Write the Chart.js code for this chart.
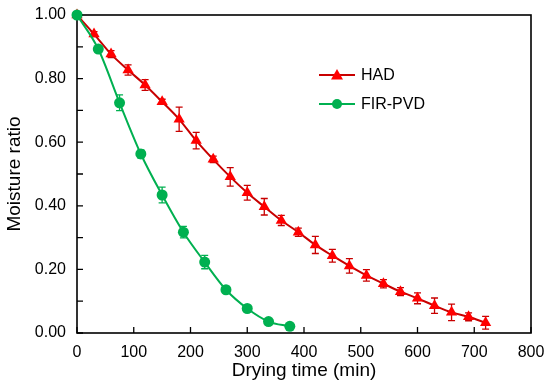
<!DOCTYPE html>
<html>
<head>
<meta charset="utf-8">
<script src="https://cdn.jsdelivr.net/npm/chart.js@4"></script>
<style>
  html,body{margin:0;padding:0;background:#fff;}
  #wrap{position:relative;width:550px;height:387px;}
</style>
</head>
<body>
<div id="wrap"><canvas id="chart" width="550" height="387"></canvas></div>
<script>
'use strict';
Chart.defaults.font.family = "Arial, 'Liberation Sans', sans-serif";
Chart.defaults.animation = false;

// ── DATA ──────────────────────────────────────────────
const timeHAD = [0,30,60,90,120,150,180,210,240,270,300,330,360,390,420,450,480,510,540,570,600,630,660,690,720];
const mrHAD   = [1.00,0.940,0.877,0.827,0.780,0.727,0.672,0.605,0.546,0.491,0.441,0.397,0.354,0.317,0.277,0.243,0.211,0.181,0.155,0.130,0.109,0.086,0.065,0.051,0.032];
const errHAD  = [0,0.008,0.011,0.016,0.017,0.008,0.038,0.026,0.010,0.029,0.023,0.026,0.016,0.013,0.027,0.020,0.023,0.018,0.013,0.0125,0.017,0.024,0.026,0.0125,0.020];

const timeFIR = [0,37.5,75,112.5,150,187.5,225,262.5,300,337.5,375];
const mrFIR   = [1.00,0.893,0.724,0.563,0.434,0.317,0.223,0.136,0.077,0.036,0.021];
const errFIR  = [0,0.008,0.025,0.013,0.025,0.018,0.021,0.005,0.005,0.004,0.004];

const xTicks = [0,100,200,300,400,500,600,700,800];
const yTicks = [0,0.1,0.2,0.3,0.4,0.5,0.6,0.7,0.8,0.9,1.0];
const yLabels = [0,0.2,0.4,0.6,0.8,1.0];

const RED = 'rgb(255,0,0)', RED_D = 'rgb(200,0,0)', GREEN = 'rgb(0,176,80)';
const FONT = "Arial, 'Liberation Sans', sans-serif";

const pts = (xs, ys) => xs.map((x,i)=>({x, y:ys[i]}));

// ── PLUGINS ───────────────────────────────────────────
const errorBars = {
  id:'errorBars',
  beforeDatasetsDraw(chart){
    const {ctx, scales:{x,y}} = chart;
    const sets = [[timeHAD,mrHAD,errHAD,RED_D],[timeFIR,mrFIR,errFIR,GREEN]];
    ctx.save();
    ctx.lineWidth = 1.3;
    sets.forEach(([ts,vs,es,col])=>{
      ctx.strokeStyle = col;
      ts.forEach((t,i)=>{
        if(!es[i]) return;
        const px = x.getPixelForValue(t);
        const top = y.getPixelForValue(vs[i]+es[i]), bot = y.getPixelForValue(vs[i]-es[i]);
        ctx.beginPath();
        ctx.moveTo(px,top); ctx.lineTo(px,bot);
        ctx.moveTo(px-3.5,top); ctx.lineTo(px+3.5,top);
        ctx.moveTo(px-3.5,bot); ctx.lineTo(px+3.5,bot);
        ctx.stroke();
      });
    });
    ctx.restore();
  }
};

// axis box, inward ticks, legend
const frame = {
  id:'frame',
  beforeDatasetsDraw(chart){
    const {ctx, chartArea:a, scales:{x,y}} = chart;
    ctx.save();
    ctx.strokeStyle = '#000';
    ctx.lineWidth = 1.6;
    ctx.strokeRect(a.left, a.top, a.right-a.left, a.bottom-a.top);
    ctx.lineWidth = 1.3;
    ctx.beginPath();
    xTicks.forEach(v=>{ const p = x.getPixelForValue(v); ctx.moveTo(p,a.bottom); ctx.lineTo(p,a.bottom-6); });
    yTicks.forEach(v=>{ const p = y.getPixelForValue(v); ctx.moveTo(a.left,p); ctx.lineTo(a.left+6,p); });
    ctx.stroke();
    ctx.restore();
  },
  afterDraw(chart){
    const {ctx} = chart;
    const items = [['HAD',RED_D,RED,'triangle',75],['FIR-PVD',GREEN,GREEN,'circle',104]];
    ctx.save();
    ctx.font = '16px ' + FONT;
    ctx.textBaseline = 'middle';
    items.forEach(([lab,lc,mc,shape,ly])=>{
      ctx.strokeStyle = lc; ctx.lineWidth = 2;
      ctx.beginPath(); ctx.moveTo(319,ly); ctx.lineTo(355,ly); ctx.stroke();
      ctx.fillStyle = mc;
      ctx.beginPath();
      if(shape==='circle'){ ctx.arc(337,ly,5,0,Math.PI*2); }
      else { ctx.moveTo(337,ly-6); ctx.lineTo(343,ly+4.5); ctx.lineTo(331,ly+4.5); ctx.closePath(); }
      ctx.fill();
      ctx.fillStyle = '#000';
      ctx.fillText(lab, 361, ly+1);
    });
    ctx.restore();
  }
};

// ── CHART ─────────────────────────────────────────────
new Chart(document.getElementById('chart'), {
  type:'line',
  data:{datasets:[
    {label:'FIR-PVD', data:pts(timeFIR,mrFIR), borderColor:GREEN, backgroundColor:GREEN,
     pointStyle:'circle', pointRadius:5.5, pointBorderWidth:0, borderWidth:2, clip:false,
     cubicInterpolationMode:'monotone', order:0},
    {label:'HAD', data:pts(timeHAD,mrHAD), borderColor:RED_D, backgroundColor:RED,
     pointStyle:'triangle', pointRadius:6.5, pointBorderWidth:0, borderWidth:2, clip:false,
     cubicInterpolationMode:'monotone', order:1}
  ]},
  options:{
    responsive:false,
    layout:{padding:{top:15,right:19,left:0,bottom:0}},
    plugins:{legend:{display:false}, tooltip:{enabled:false}},
    scales:{
      x:{type:'linear', min:0, max:800,
        afterBuildTicks:s=>{ s.ticks = xTicks.map(v=>({value:v})); },
        afterFit:s=>{ s.height = 54; s.paddingLeft = 0; s.paddingRight = 0; },
        grid:{display:false, drawTicks:false}, border:{display:false},
        ticks:{color:'#000', font:{size:16}, padding:10, maxRotation:0, callback:v=>String(v)},
        title:{display:true, text:'Drying time (min)', color:'#000', font:{size:19}, padding:{top:0,bottom:5}}},
      y:{type:'linear', min:0, max:1,
        afterBuildTicks:s=>{ s.ticks = yLabels.map(v=>({value:v})); },
        afterFit:s=>{ s.width = 77; s.paddingTop = 0; s.paddingBottom = 0; },
        grid:{display:false, drawTicks:false}, border:{display:false},
        ticks:{color:'#000', font:{size:16}, padding:11, callback:v=>v.toFixed(2)},
        title:{display:true, text:'Moisture ratio', color:'#000', font:{size:19}, padding:{top:3,bottom:0}}}
    }
  },
  plugins:[errorBars, frame]
});
</script>
</body>
</html>
